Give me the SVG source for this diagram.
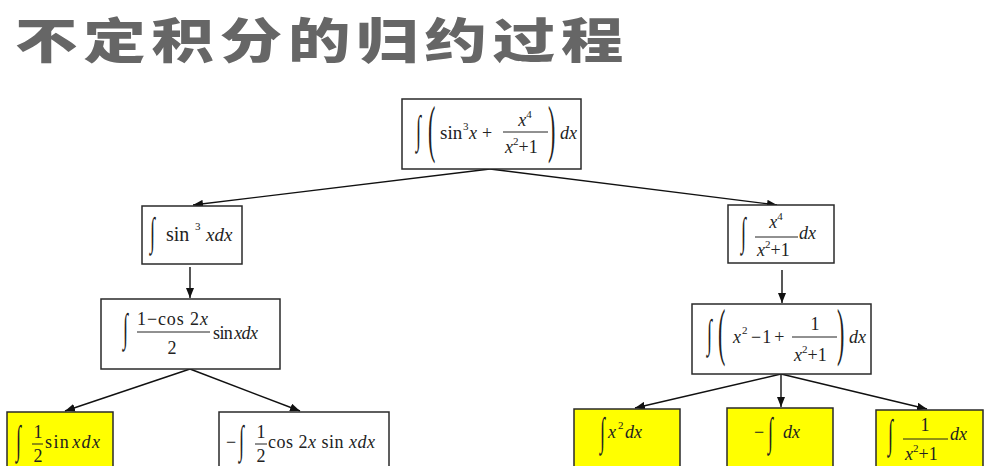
<svg xmlns="http://www.w3.org/2000/svg" width="987" height="466" viewBox="0 0 987 466">
<defs>
<style>
.box{fill:#fff;stroke:#2a2a2a;stroke-width:1.5}
.ybox{fill:#ffff00;stroke:#2a2a2a;stroke-width:1.5}
.m{font-family:"Liberation Serif","Times New Roman",serif;fill:#222;font-size:18px}
.i{font-style:italic}
.s{font-size:11px}
.bar{stroke:#222;stroke-width:1}
.edge{stroke:#111;stroke-width:1.4;fill:none;marker-end:url(#ah)}
.title{font-family:"Noto Sans CJK SC","Noto Sans",sans-serif;font-weight:900;font-size:48px;fill:#666}
</style>
<marker id="ah" viewBox="0 0 10 8" refX="10" refY="4" markerWidth="10" markerHeight="8" markerUnits="userSpaceOnUse" orient="auto">
<path d="M0,0 L10,4 L0,8 z" fill="#111"/>
</marker>
</defs>
<rect width="987" height="466" fill="#fff"/>
<text class="title" transform="translate(15,58) scale(1.3,1)" x="0" y="0" textLength="468" lengthAdjust="spacing">不定积分的归约过程</text>

<g id="connectors">
<line class="edge" x1="490" y1="169" x2="193" y2="205"/>
<line class="edge" x1="490" y1="169" x2="777" y2="205"/>
<line class="edge" x1="190" y1="267" x2="190" y2="298"/>
<line class="edge" x1="190" y1="369" x2="65" y2="411"/>
<line class="edge" x1="190" y1="369" x2="300" y2="411"/>
<line class="edge" x1="782" y1="270" x2="782" y2="303"/>
<line class="edge" x1="781" y1="374" x2="635" y2="408"/>
<line class="edge" x1="781" y1="374" x2="781" y2="407"/>
<line class="edge" x1="781" y1="374" x2="927" y2="409"/>
</g>

<g id="n_top">
<rect class="box" x="402" y="99" width="179" height="70"/>
<text class="m" transform="translate(416,143) scale(1,2.2)">∫</text>
<text class="m" style="font-size:22px" transform="translate(428,150) scale(1,2.9)">(</text>
<text class="m" x="440" y="139" style="font-size:19px">sin</text>
<text class="m s" x="463" y="130">3</text>
<text class="m i" x="469" y="139">x</text>
<text class="m" x="482" y="139">+</text>
<text class="m" x="525" y="126" text-anchor="middle"><tspan class="i">x</tspan><tspan class="s" dy="-8">4</tspan></text>
<line class="bar" x1="503" y1="132" x2="548" y2="132"/>
<text class="m" x="505" y="153"><tspan class="i">x</tspan><tspan class="s" dy="-8">2</tspan><tspan dy="8">+1</tspan></text>
<text class="m" style="font-size:22px" transform="translate(548,150) scale(1,2.9)">)</text>
<text class="m i" x="560" y="139">dx</text>
</g>

<g id="n_sin3">
<rect class="box" x="142" y="206" width="100" height="58"/>
<text class="m" transform="translate(150,245) scale(1,2.2)">∫</text>
<text class="m" x="166" y="241" style="font-size:20px">sin</text>
<text class="m s" x="195" y="230">3</text>
<text class="m i" x="206" y="241" style="font-size:19px">xdx</text>
</g>

<g id="n_frac">
<rect class="box" x="728" y="205" width="106" height="58"/>
<text class="m" transform="translate(741,245) scale(1,2.2)">∫</text>
<text class="m" x="776" y="228" text-anchor="middle"><tspan class="i">x</tspan><tspan class="s" dy="-8">4</tspan></text>
<line class="bar" x1="755" y1="237" x2="798" y2="237"/>
<text class="m" x="757" y="256"><tspan class="i">x</tspan><tspan class="s" dy="-8">2</tspan><tspan dy="8">+1</tspan></text>
<text class="m i" x="799" y="239">dx</text>
</g>

<g id="n_cos">
<rect class="box" x="101" y="299" width="179" height="70"/>
<text class="m" transform="translate(123,341) scale(1,2.2)">∫</text>
<text class="m" x="137" y="325" textLength="71">1−cos 2<tspan class="i">x</tspan></text>
<line class="bar" x1="137" y1="332" x2="210" y2="332"/>
<text class="m" x="172" y="354" text-anchor="middle">2</text>
<text class="m" x="213" y="339" textLength="45">sin<tspan class="i" dx="2">xdx</tspan></text>
</g>

<g id="n_split">
<rect class="box" x="692" y="304" width="179" height="70"/>
<text class="m" transform="translate(707,347) scale(1,2.2)">∫</text>
<text class="m" style="font-size:22px" transform="translate(718,353) scale(1,2.9)">(</text>
<text class="m i" x="733" y="343">x</text>
<text class="m s" x="742" y="334">2</text>
<text class="m" x="751" y="343">−<tspan dx="1">1</tspan><tspan dx="3">+</tspan></text>
<text class="m" x="815" y="330" text-anchor="middle">1</text>
<line class="bar" x1="792" y1="337" x2="837" y2="337"/>
<text class="m" x="794" y="361"><tspan class="i">x</tspan><tspan class="s" dy="-8">2</tspan><tspan dy="8">+1</tspan></text>
<text class="m" style="font-size:22px" transform="translate(837,353) scale(1,2.9)">)</text>
<text class="m i" x="849" y="343">dx</text>
</g>

<g id="n_leaf1">
<rect class="ybox" x="7" y="412" width="106" height="60"/>
<text class="m" transform="translate(16,453) scale(1,2.2)">∫</text>
<text class="m" x="38" y="438" text-anchor="middle">1</text>
<line class="bar" x1="32" y1="444" x2="43" y2="444"/>
<text class="m" x="38" y="462" text-anchor="middle">2</text>
<text class="m" x="45" y="448" textLength="55">sin<tspan class="i" dx="2">xdx</tspan></text>
</g>

<g id="n_leaf2">
<rect class="box" x="219" y="412" width="170" height="60"/>
<text class="m" x="226" y="448">−</text>
<text class="m" transform="translate(239,453) scale(1,2.2)">∫</text>
<text class="m" x="261" y="438" text-anchor="middle">1</text>
<line class="bar" x1="255" y1="444" x2="267" y2="444"/>
<text class="m" x="261" y="462" text-anchor="middle">2</text>
<text class="m" x="268" y="448" textLength="107">cos 2<tspan class="i">x</tspan> sin <tspan class="i">xdx</tspan></text>
</g>

<g id="n_leaf3">
<rect class="ybox" x="574" y="409" width="106" height="60"/>
<text class="m" transform="translate(600,445) scale(1,2.2)">∫</text>
<text class="m i" x="608" y="438">x</text>
<text class="m s" x="618" y="429">2</text>
<text class="m i" x="625" y="438">dx</text>
</g>

<g id="n_leaf4">
<rect class="ybox" x="727" y="408" width="106" height="60"/>
<text class="m" x="754" y="438">−</text>
<text class="m" transform="translate(768,445) scale(1,2.2)">∫</text>
<text class="m i" x="783" y="438">dx</text>
</g>

<g id="n_leaf5">
<rect class="ybox" x="876" y="410" width="107" height="60"/>
<text class="m" transform="translate(888,447) scale(1,2.2)">∫</text>
<text class="m" x="925" y="431" text-anchor="middle">1</text>
<line class="bar" x1="903" y1="439" x2="948" y2="439"/>
<text class="m" x="905" y="460"><tspan class="i">x</tspan><tspan class="s" dy="-8">2</tspan><tspan dy="8">+1</tspan></text>
<text class="m i" x="950" y="440">dx</text>
</g>
</svg>
